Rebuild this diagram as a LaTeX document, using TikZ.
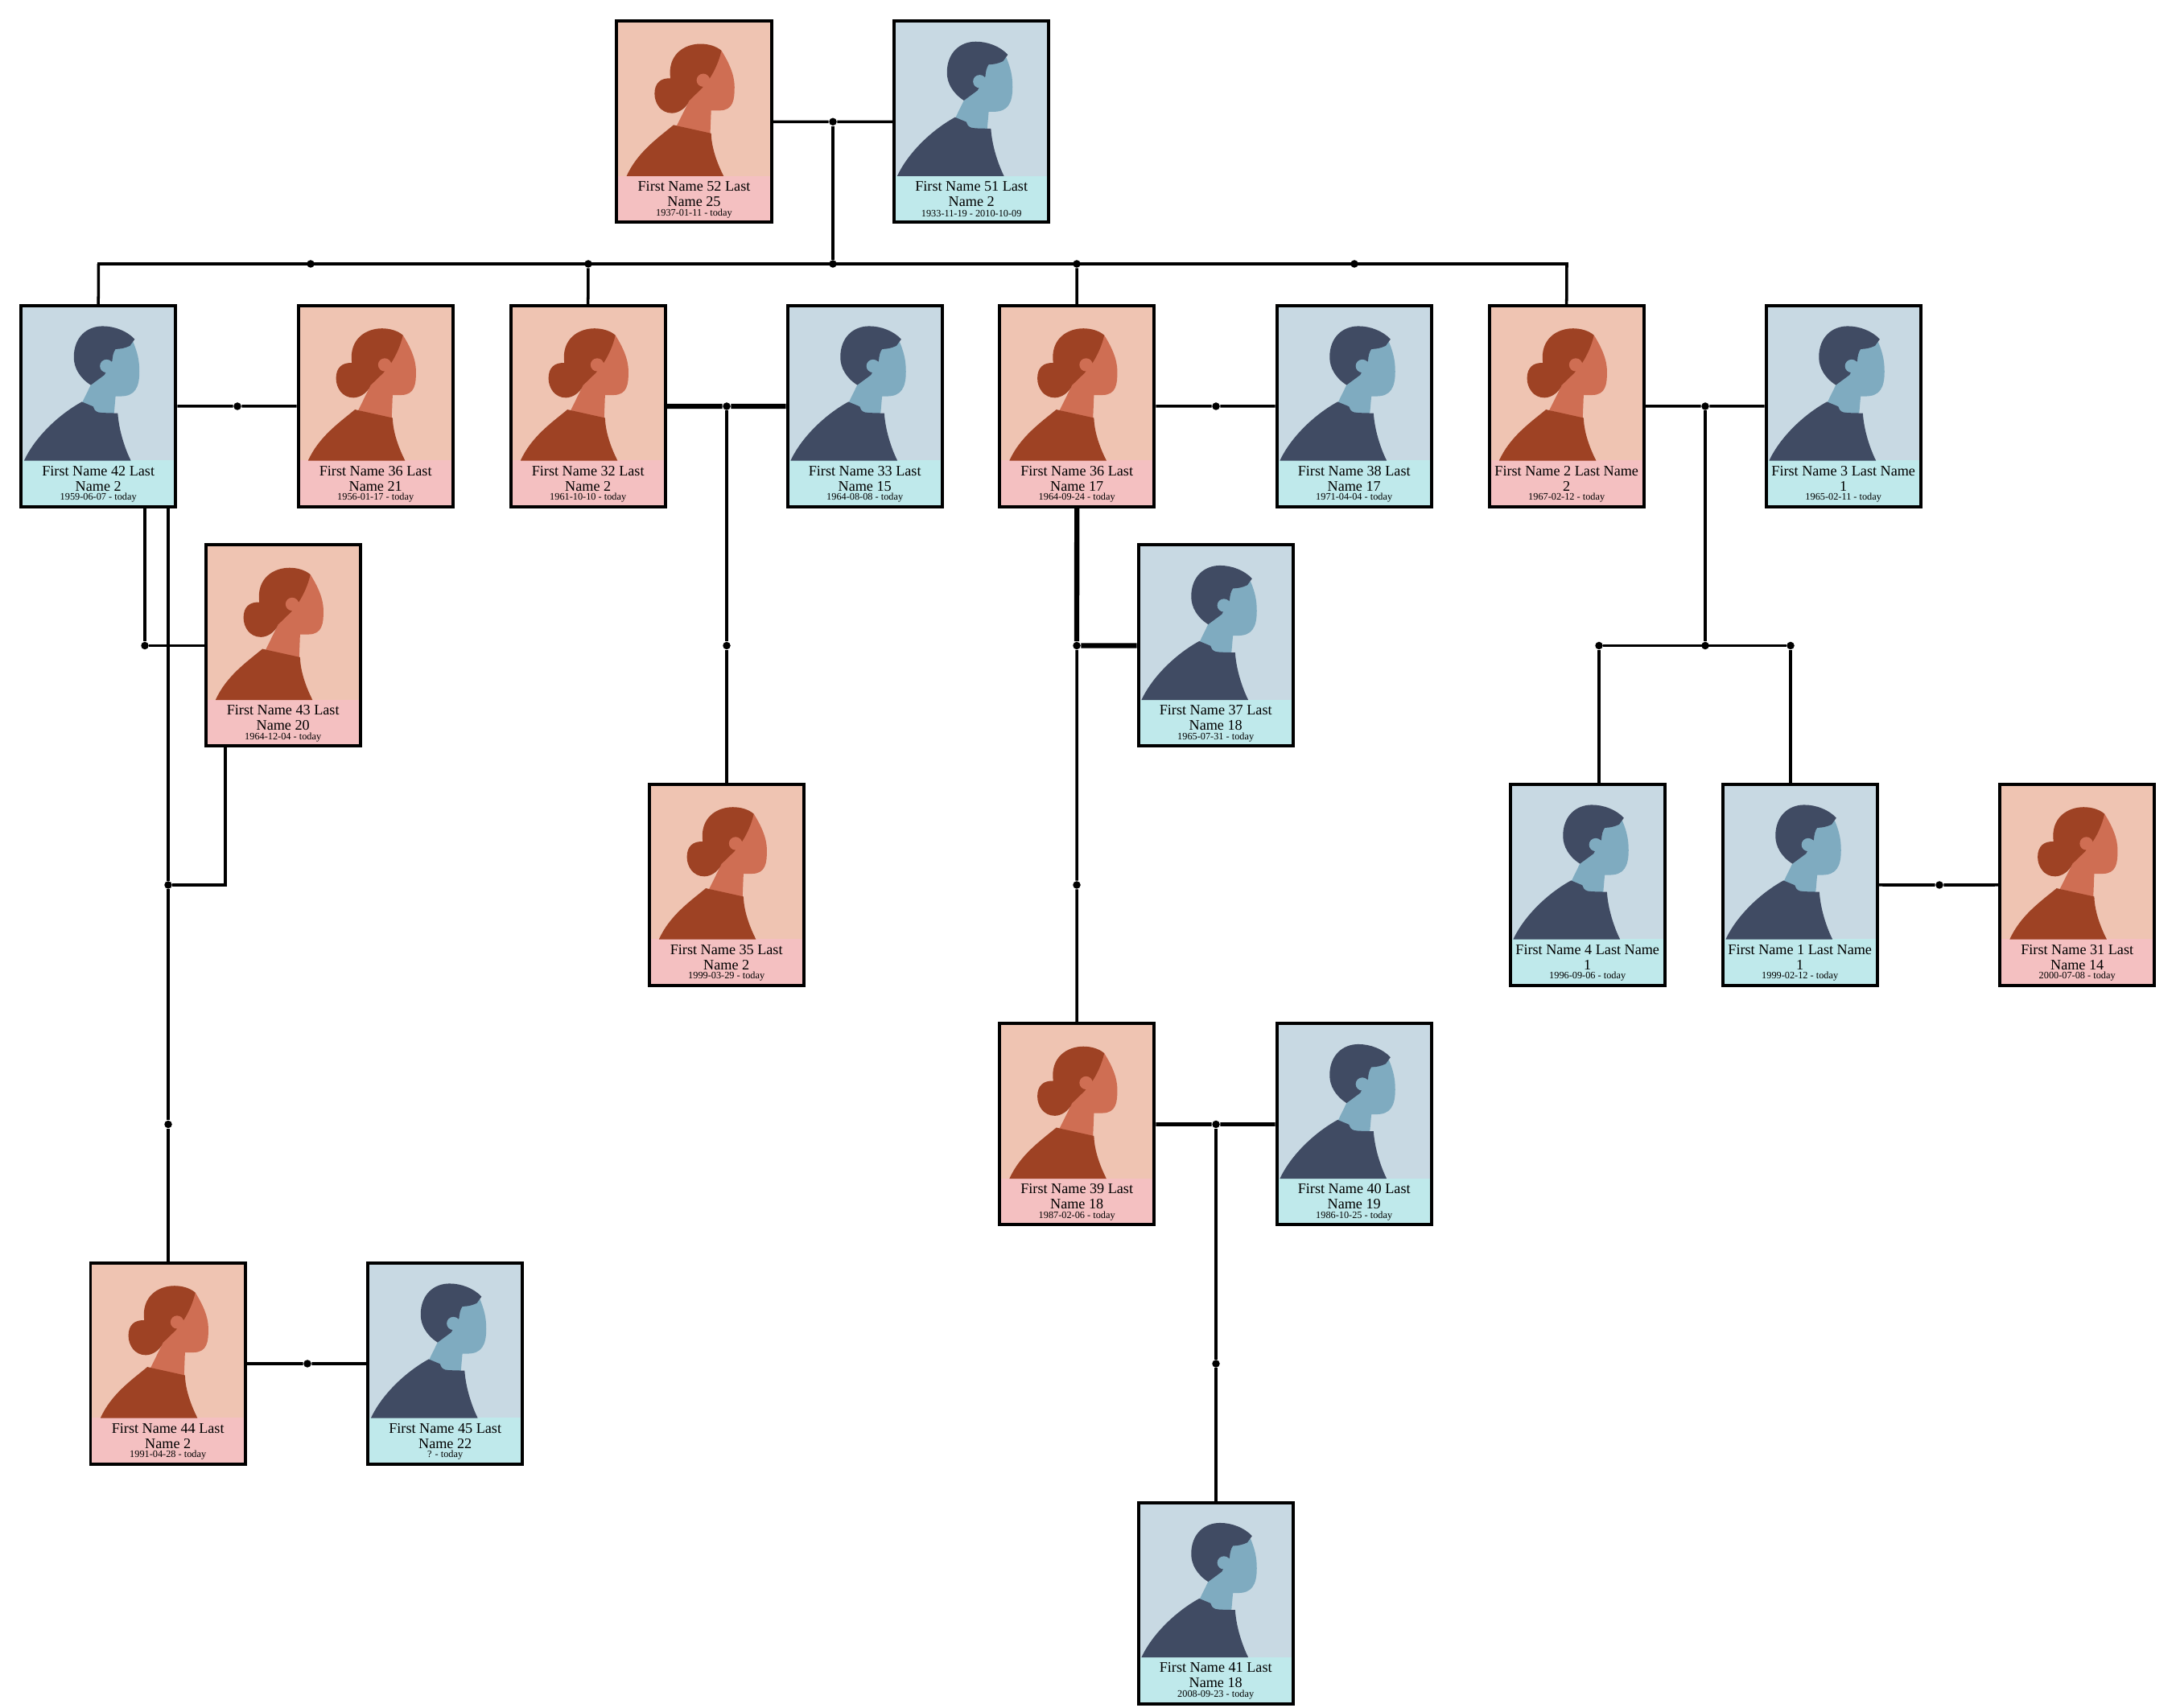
\documentclass[tikz,border=0pt]{standalone}
\usepackage{fontspec}
\setmainfont{Liberation Serif}
\definecolor{womanbg}{HTML}{EFC4B2}
\definecolor{womanlabel}{HTML}{F4C0C1}
\definecolor{womanhair}{HTML}{9E4224}
\definecolor{womanskin}{HTML}{CF6E53}
\definecolor{manbg}{HTML}{C8D9E3}
\definecolor{manlabel}{HTML}{BFE9EB}
\definecolor{manhair}{HTML}{404B63}
\definecolor{manskin}{HTML}{7FABC0}
\tikzset{
  card/.style={draw, line width=0.04cm, minimum width=1.924cm, minimum height=2.5cm, inner sep=0pt, anchor=north west},
  namelabel/.style={font=\fontsize{5.17}{5.4}\selectfont, align=center, inner sep=0pt},
  datelabel/.style={font=\fontsize{3.5}{4}\selectfont, inner sep=0pt},
  link/.style={line width=1pt},
  midlink/.style={line width=1.35pt},
  thicklink/.style={line width=1.8pt},
  dot/.style={circle, fill, inner sep=0pt, minimum size=0.095cm},
  portrait/.style={xscale=0.01964, yscale=-0.0254},
  woman/.pic={
    \fill[womanskin] (67.3,15.2) .. controls (72,21) and (75.6,27) .. (75.6,33) .. controls (75.6,39) and (75,44.5) .. (66,44.5) -- (60.8,44.5) -- (60.2,56) -- (39,52) -- (47,39.6) -- (56,25) -- cycle;
    \fill[womanhair] (7.3,76.6) .. controls (14,65) and (27,58) .. (37,51.6) -- (60.8,55.7) .. controls (61,63) and (65,71) .. (68.7,76.6) -- cycle;
    \fill[womanhair] (35,28.8) .. controls (33,17) and (44,11.9) .. (54.1,11.9) .. controls (59,11.9) and (64,13) .. (67.3,15.2) .. controls (66,20) and (63,25) .. (60.2,28.4) -- (55,33.6) -- (47,39.6) .. controls (45,43.5) and (40,45.8) .. (36,45.8) .. controls (29,45.8) and (25,41) .. (25,36.3) .. controls (25,31) and (29,28.5) .. (35,28.8) -- cycle;
    \fill[womanskin] (55.8,29.7) ellipse (4.2 and 3.2);
  },
  man/.pic={
    \fill[manskin] (72,18.5) .. controls (75,24) and (76,28) .. (76,33) .. controls (76,41) and (73,45.1) .. (64,45.1) -- (60.9,45.1) -- (59.8,55) -- (42,52) -- (40,47.8) -- (45.2,39.6) -- (55,22) -- cycle;
    \fill[manhair] (3,76.6) .. controls (10,65) and (25,54) .. (39.6,47.8) -- (46.7,50.1) -- (47.7,51.8) .. controls (49,53) and (51,53.2) .. (52.7,53.2) -- (62.3,53.4) .. controls (63,62) and (67,71) .. (70.6,76.6) -- cycle;
    \fill[manhair] (45.2,39.6) .. controls (38,36) and (34.5,31) .. (34.5,26) .. controls (34.5,16) and (43,10.8) .. (52.7,10.8) .. controls (60,10.8) and (68,13) .. (73,17.2) -- (70,20.4) .. controls (67,21.5) and (64,22) .. (60.9,22) .. controls (59.5,23.5) and (59,25.5) .. (58.8,27.7) -- (53.8,34.7) -- cycle;
    \fill[manskin] (55.2,30.3) ellipse (4.2 and 3.2);
  }
}
% #1 name, #2 woman or man, #3 x, #4 y, #5 name lines, #6 dates
\newcommand{\personcard}[6]{
  \fill[#2bg] (#3,-#4) rectangle ++(1.964,-2.54);
  \fill[#2label] (#3,-#4-1.944) rectangle ++(1.964,-0.596);
  \pic[portrait] at (#3,-#4) {#2};
  \node[card] (#1) at (#3,-#4) {};
  \node[namelabel] (#1name) at (#3+0.982,-#4-2.17) {#5};
  \node[datelabel] (#1date) at (#3+0.982,-#4-2.41) {#6};
}
\begin{document}
\begin{tikzpicture}
  \useasboundingbox (0,0) rectangle (27.04,-21.23);

  % first row
  \personcard{pa}{woman}{7.643}{0.243}{First Name 52 Last\\Name 25}{1937-01-11 - today}
  \personcard{pb}{man}{11.09}{0.243}{First Name 51 Last\\Name 2}{1933-11-19 - 2010-10-09}
  % second row
  \personcard{pc}{man}{0.24}{3.78}{First Name 42 Last\\Name 2}{1959-06-07 - today}
  \personcard{pd}{woman}{3.685}{3.78}{First Name 36 Last\\Name 21}{1956-01-17 - today}
  \personcard{pe}{woman}{6.325}{3.78}{First Name 32 Last\\Name 2}{1961-10-10 - today}
  \personcard{pf}{man}{9.765}{3.78}{First Name 33 Last\\Name 15}{1964-08-08 - today}
  \personcard{pg}{woman}{12.4}{3.78}{First Name 36 Last\\Name 17}{1964-09-24 - today}
  \personcard{ph}{man}{15.845}{3.78}{First Name 38 Last\\Name 17}{1971-04-04 - today}
  \personcard{pi}{woman}{18.485}{3.78}{First Name 2 Last Name\\2}{1967-02-12 - today}
  \personcard{pj}{man}{21.925}{3.78}{First Name 3 Last Name\\1}{1965-02-11 - today}
  % third row
  \personcard{pk}{woman}{2.535}{6.755}{First Name 43 Last\\Name 20}{1964-12-04 - today}
  \personcard{pl}{man}{14.125}{6.755}{First Name 37 Last\\Name 18}{1965-07-31 - today}
  % fourth row
  \personcard{pm}{woman}{8.045}{9.73}{First Name 35 Last\\Name 2}{1999-03-29 - today}
  \personcard{pn}{man}{18.745}{9.73}{First Name 4 Last Name\\1}{1996-09-06 - today}
  \personcard{po}{man}{21.385}{9.73}{First Name 1 Last Name\\1}{1999-02-12 - today}
  \personcard{pp}{woman}{24.83}{9.73}{First Name 31 Last\\Name 14}{2000-07-08 - today}
  % fifth row
  \personcard{pq}{woman}{12.4}{12.705}{First Name 39 Last\\Name 18}{1987-02-06 - today}
  \personcard{pr}{man}{15.845}{12.705}{First Name 40 Last\\Name 19}{1986-10-25 - today}
  % sixth row
  \personcard{ps}{woman}{1.105}{15.68}{First Name 44 Last\\Name 2}{1991-04-28 - today}
  \personcard{pt}{man}{4.55}{15.68}{First Name 45 Last\\Name 22}{? - today}
  % last row
  \personcard{pu}{man}{14.125}{18.655}{First Name 41 Last\\Name 18}{2008-09-23 - today}

  % junctions
  \node[dot] (ja) at (10.35,-1.513) {};
  \node[dot] (jb) at (10.35,-3.28) {};
  \node[dot] (jc) at (3.86,-3.28) {};
  \node[dot] (jd) at (7.31,-3.28) {};
  \node[dot] (je) at (13.38,-3.28) {};
  \node[dot] (jf) at (16.83,-3.28) {};
  \coordinate (ka) at (1.225,-3.28);
  \coordinate (kb) at (19.47,-3.28);
  \node[dot] (jg) at (2.95,-5.05) {};
  \node[dot] (jh) at (9.03,-5.05) {};
  \node[dot] (ji) at (15.11,-5.05) {};
  \node[dot] (jj) at (21.19,-5.05) {};
  \node[dot] (jk) at (1.8,-8.025) {};
  \node[dot] (jl) at (9.03,-8.025) {};
  \node[dot] (jm) at (13.38,-8.025) {};
  \node[dot] (jn) at (21.19,-8.025) {};
  \node[dot] (jo) at (19.87,-8.025) {};
  \node[dot] (jp) at (22.25,-8.025) {};
  \node[dot] (jq) at (2.09,-11) {};
  \node[dot] (jr) at (13.38,-11) {};
  \node[dot] (js) at (24.1,-11) {};
  \node[dot] (jt) at (2.09,-13.975) {};
  \node[dot] (ju) at (15.11,-13.975) {};
  \node[dot] (jv) at (3.82,-16.95) {};
  \node[dot] (jw) at (15.11,-16.95) {};

  % couples
  \draw[link] (pa.east) -- (ja) -- (pb.west);
  \draw[link] (pc.east) -- (jg) -- (pd.west);
  \draw[thicklink] (pe.east) -- (jh) -- (pf.west);
  \draw[link] (pg.east) -- (ji) -- (ph.west);
  \draw[link] (pi.east) -- (jj) -- (pj.west);
  \draw[link] (po.east) -- (js) -- (pp.west);
  \draw[midlink] (pq.east) -- (ju) -- (pr.west);
  \draw[link] (ps.east) -- (jv) -- (pt.west);

  % children
  \draw[link] (ja) -- (jb);
  \draw[link, line cap=rect] (ka) -- (kb);
  \draw[link] (ka) -- (pc.north);
  \draw[link] (jd) -- (pe.north);
  \draw[link] (je) -- (pg.north);
  \draw[link] (kb) -- (pi.north);
  \draw[link] (jh) -- (jl) -- (jl |- pm.north);
  \draw[thicklink] (pg.south) -- (jm) -- (jm -| pl.west);
  \draw[link] (jm) -- (jr) -- (pq.north);
  \draw[link] (jj) -- (jn);
  \draw[link] (jo) -- (jp);
  \draw[link] (jo) -- (jo |- pn.north);
  \draw[link] (jp) -- (jp |- po.north);
  \draw[midlink] (jk |- pc.south) -- (jk);
  \draw[link] (jk) -- (jk -| pk.west);
  \draw[link] (jq |- pc.south) -- (jq) -- (jt) -- (jt |- ps.north);
  \draw[link] (jq) -| (pk.south -| 2.8,0);
  \draw[midlink] (ju) -- (jw) -- (jw |- pu.north);
\end{tikzpicture}
\end{document}
